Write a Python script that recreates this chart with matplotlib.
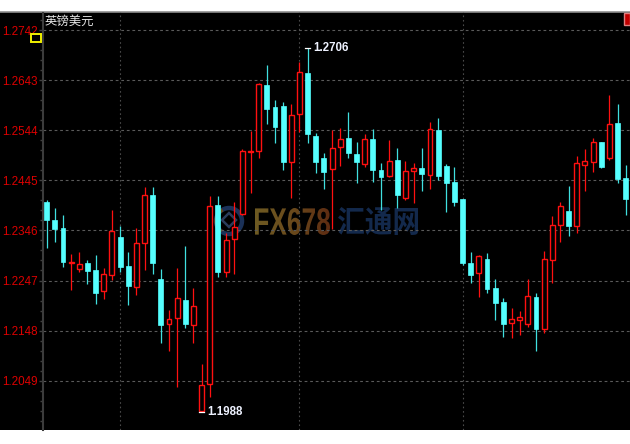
import matplotlib
matplotlib.use("Agg")
import matplotlib.pyplot as plt
from matplotlib.patches import Rectangle, Circle, Wedge, PathPatch, Polygon
from matplotlib.ticker import AutoMinorLocator, FixedLocator
from matplotlib.textpath import TextPath
from matplotlib.font_manager import FontProperties
from matplotlib.transforms import Affine2D
from matplotlib.colors import LinearSegmentedColormap
import numpy as np

# ---------------- data ----------------
title = "英镑美元"
opens = [1.2402, 1.2367, 1.2350, 1.2281, 1.2269, 1.2281, 1.2268, 1.2227, 1.2258, 1.2332,
         1.2276, 1.2235, 1.2321, 1.2416, 1.2249, 1.2162, 1.2172, 1.2209, 1.2160, 1.1989,
         1.2042, 1.2396, 1.2264, 1.2329, 1.2378, 1.2500, 1.2503, 1.2633, 1.2589, 1.2592,
         1.2482, 1.2577, 1.2658, 1.2533, 1.2490, 1.2467, 1.2510, 1.2528, 1.2497, 1.2477,
         1.2526, 1.2465, 1.2454, 1.2485, 1.2411, 1.2463, 1.2470, 1.2455, 1.2544, 1.2473,
         1.2442, 1.2408, 1.2282, 1.2261, 1.2289, 1.2232, 1.2205, 1.2164, 1.2168, 1.2161,
         1.2214, 1.2151, 1.2288, 1.2357, 1.2384, 1.2355, 1.2476, 1.2482, 1.2520, 1.2490,
         1.2558, 1.2449]
highs = [1.2406, 1.2390, 1.2376, 1.2299, 1.2304, 1.2288, 1.2297, 1.2272, 1.2386, 1.2355,
         1.2304, 1.2350, 1.2431, 1.2431, 1.2269, 1.2189, 1.2271, 1.2315, 1.2232, 1.2082,
         1.2414, 1.2414, 1.2341, 1.2403, 1.2507, 1.2543, 1.2638, 1.2673, 1.2604, 1.2600,
         1.2595, 1.2679, 1.2706, 1.2538, 1.2498, 1.2544, 1.2548, 1.2579, 1.2520, 1.2537,
         1.2546, 1.2479, 1.2525, 1.2508, 1.2483, 1.2480, 1.2508, 1.2561, 1.2569, 1.2477,
         1.2471, 1.2409, 1.2304, 1.2297, 1.2301, 1.2250, 1.2212, 1.2192, 1.2187, 1.2250,
         1.2222, 1.2306, 1.2375, 1.2403, 1.2434, 1.2493, 1.2506, 1.2528, 1.2521, 1.2614,
         1.2595, 1.2475]
lows = [1.2311, 1.2324, 1.2274, 1.2228, 1.2264, 1.2240, 1.2201, 1.2210, 1.2248, 1.2264,
        1.2199, 1.2218, 1.2268, 1.2260, 1.2124, 1.2108, 1.2037, 1.2153, 1.2123, 1.1988,
        1.2017, 1.2253, 1.2253, 1.2260, 1.2376, 1.2419, 1.2490, 1.2556, 1.2518, 1.2465,
        1.2411, 1.2541, 1.2518, 1.2459, 1.2427, 1.2348, 1.2474, 1.2490, 1.2439, 1.2472,
        1.2442, 1.2386, 1.2452, 1.2390, 1.2406, 1.2400, 1.2424, 1.2427, 1.2446, 1.2383,
        1.2395, 1.2278, 1.2242, 1.2215, 1.2222, 1.2169, 1.2136, 1.2133, 1.2139, 1.2156,
        1.2108, 1.2144, 1.2242, 1.2324, 1.2335, 1.2340, 1.2424, 1.2461, 1.2469, 1.2485,
        1.2440, 1.2376]
closes = [1.2367, 1.2348, 1.2284, 1.2284, 1.2280, 1.2266, 1.2223, 1.2259, 1.2345, 1.2273,
          1.2236, 1.2321, 1.2416, 1.2282, 1.2159, 1.2170, 1.2212, 1.2161, 1.2197, 1.2041,
          1.2394, 1.2264, 1.2327, 1.2353, 1.2503, 1.2503, 1.2635, 1.2585, 1.2551, 1.2482,
          1.2575, 1.2660, 1.2536, 1.2482, 1.2461, 1.2508, 1.2526, 1.2498, 1.2482, 1.2526,
          1.2465, 1.2452, 1.2484, 1.2415, 1.2464, 1.2470, 1.2457, 1.2546, 1.2453, 1.2439,
          1.2403, 1.2282, 1.2257, 1.2296, 1.2230, 1.2203, 1.2162, 1.2170, 1.2174, 1.2216,
          1.2152, 1.2289, 1.2356, 1.2394, 1.2355, 1.2479, 1.2483, 1.2520, 1.2472, 1.2556,
          1.2448, 1.2408]
y_ticks = [1.2742, 1.2643, 1.2544, 1.2445, 1.2346, 1.2247, 1.2148, 1.2049]
y_tick_labels = ["1.2742", "1.2643", "1.2544", "1.2445", "1.2346", "1.2247", "1.2148", "1.2049"]
v_grid_index = [9, 31, 51]
high_idx, high_label = 32, "1.2706"
low_idx, low_label = 19, "1.1988"
wm_latin, wm_cjk = "FX678", "汇通网"

# ---------------- styling ----------------
UP = "#ff1010"
DOWN = "#55ffff"
DOWN_WICK = "#40e0e0"
W, H = 630, 444

fig = plt.figure(figsize=(W / 100, H / 100), dpi=100, facecolor="white")

def fx(px):
    return px / W

def fy(py):
    return 1 - py / H

# black panel
fig.add_artist(Rectangle((0, fy(430)), 1, fy(12.5) - fy(430), transform=fig.transFigure,
                         facecolor="black", edgecolor="none", zorder=-5))
fig.add_artist(plt.Line2D([0, 1], [fy(12.5), fy(12.5)], transform=fig.transFigure,
                          color="#909090", lw=1.2, zorder=-4))

# watermark layer (pixel coordinates)
wax = fig.add_axes([0, 0, 1, 1], facecolor="none")
wax.set_xlim(0, W)
wax.set_ylim(H, 0)
wax.axis("off")
wax.set_zorder(1)

def text_patch(text, prop, x0, x1, y0, y1, color):
    tp = TextPath((0, 0), text, size=100, prop=prop)
    bb = tp.get_extents()
    sx = (x1 - x0) / bb.width
    sy = (y1 - y0) / bb.height
    tr = Affine2D().translate(-bb.x0, -bb.y0).scale(sx, -sy).translate(x0, y1)
    p = PathPatch(tr.transform_path(tp), facecolor=color, edgecolor="none")
    wax.add_patch(p)
    return p

# logo
wax.add_patch(Circle((229, 221), 13, fill=False, ec="#1b3158", lw=3.2))
wax.add_patch(Wedge((229, 221), 14.6, 125, 240, width=3.4, fc="#6a4a18", ec="none"))
wax.add_patch(Polygon([[229, 213], [236, 220], [229, 227], [222, 220]], closed=True,
                      fill=False, ec="#2a3c5a", lw=1.8))

# FX678 with a gold -> rust gradient
fx_patch = text_patch(wm_latin, FontProperties(family="Liberation Sans", weight="bold"),
                      255, 330, 208, 235, "none")
grad_cmap = LinearSegmentedColormap.from_list("wm", ["#6e5a22", "#6a4a1c", "#5e2c12"])
img = wax.imshow(np.linspace(0, 1, 100).reshape(1, -1), cmap=grad_cmap, aspect="auto",
                 extent=(255, 330, 235, 208), zorder=1)
img.set_clip_path(fx_patch)
wax.set_xlim(0, W)
wax.set_ylim(H, 0)
text_patch(wm_cjk, FontProperties(family="Noto Sans CJK SC", weight="bold"),
           338, 418, 207, 235, "#13294c")

ax = fig.add_axes([fx(43), fy(430), 1 - fx(43), fy(12.5) - fy(430)])
ax.set_zorder(2)
ax.patch.set_alpha(0)
ax.set_xlim(-0.45, 71.53)
ax.set_ylim(1.19516, 1.27766)

n = len(opens)
bw = 0.6
for i in range(n):
    o, h, l, c = opens[i], highs[i], lows[i], closes[i]
    top, bot = max(o, c), min(o, c)
    if c >= o:
        ax.plot([i, i], [top, h], color=UP, lw=0.9, zorder=3, solid_capstyle="butt")
        ax.plot([i, i], [l, bot], color=UP, lw=0.9, zorder=3, solid_capstyle="butt")
        ax.add_patch(Rectangle((i - bw / 2, bot), bw, max(top - bot, 0.00005),
                               facecolor="black", edgecolor=UP, lw=1.0, zorder=4))
    else:
        ax.plot([i, i], [l, h], color=DOWN_WICK, lw=0.9, zorder=3, solid_capstyle="butt")
        ax.add_patch(Rectangle((i - bw / 2, bot), bw, max(top - bot, 0.00005),
                               facecolor=DOWN, edgecolor=DOWN, lw=0.5, zorder=4))

# grid
for yv in y_ticks:
    ax.axhline(yv, color="#5a5a5a", lw=0.8, ls=(0, (2.5, 2.5)), zorder=1)
for xv in v_grid_index:
    ax.axvline(xv, color="#4a4a4a", lw=0.8, ls=(0, (1.5, 2.5)), zorder=1)

# axes styling
for s in ["top", "right", "bottom"]:
    ax.spines[s].set_visible(False)
ax.spines["left"].set_color("#3c3c3c")
ax.spines["left"].set_linewidth(1.5)
ax.set_xticks([])
ax.yaxis.set_major_locator(FixedLocator(y_ticks))
ax.set_yticklabels(y_tick_labels)
ax.yaxis.set_minor_locator(AutoMinorLocator(5))
ax.tick_params(axis="y", which="major", length=3, width=1, color="#404040",
               labelcolor="#dc0000", labelsize=8.4, pad=0.5)
ax.tick_params(axis="y", which="minor", length=2, width=1, color="#404040")
for t in ax.get_yticklabels():
    t.set_fontfamily(["Liberation Sans", "DejaVu Sans"])

# title and markers
fig.text(fx(45), fy(21), title, color="#e6e6e6", fontsize=8.9,
         family=["Noto Sans CJK SC", "DejaVu Sans"], va="center", ha="left")
fig.add_artist(Rectangle((fx(31), fy(42)), fx(10), fy(34) - fy(42), transform=fig.transFigure,
                         facecolor="black", edgecolor="#f0f000", lw=1.4, zorder=5))
fig.add_artist(Rectangle((fx(624), fy(25)), fx(6), fy(13) - fy(25), transform=fig.transFigure,
                         facecolor="#c00000", edgecolor="#e08080", lw=1, zorder=5))

# high / low annotations
for idx, val, lab in [(high_idx, highs[high_idx], high_label), (low_idx, lows[low_idx], low_label)]:
    ax.plot([idx - 0.35, idx + 0.35], [val, val], color="white", lw=0.9, zorder=6)
    ax.annotate(lab, (idx, val), xytext=(4, 0), textcoords="offset points",
                color="#eef2ff", fontsize=8.3, fontweight="bold",
                family=["Liberation Sans", "DejaVu Sans"], va="center", ha="left", zorder=6)

fig.savefig("out.png", dpi=100, facecolor="white")
